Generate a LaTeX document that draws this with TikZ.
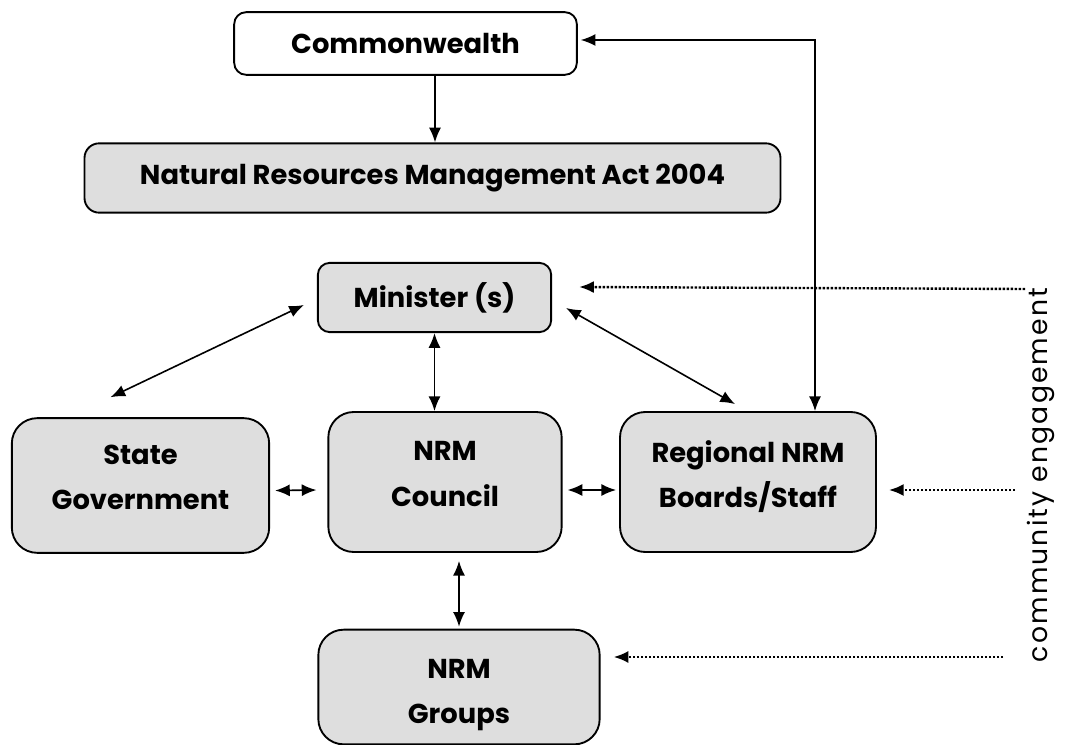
\documentclass[tikz,border=0pt]{standalone}
\usepackage{fontspec}
\setmainfont{Poppins}
\usetikzlibrary{arrows.meta,calc}
\definecolor{boxgrey}{RGB}{222,222,222}

\begin{document}
\begin{tikzpicture}[x=0.75pt,y=-0.75pt,
  panel/.style={draw, line width=1.4pt, rounded corners=9pt, align=center, inner sep=0pt,
    font=\fontsize{20.5}{34}\selectfont\bfseries},
  greypanel/.style={panel, fill=boxgrey},
  bigpanel/.style={greypanel, rounded corners=19pt},
  twoway/.style={{Latex[length=11pt,width=9pt]}-{Latex[length=11pt,width=9pt]}, line width=1.2pt},
  oneway/.style={-{Latex[length=11pt,width=9pt]}, line width=1.2pt},
  engage/.style={-{Latex[length=11pt,width=9pt]}, line width=1.8pt, dash pattern=on 1.8pt off 1.2pt}]

\useasboundingbox (0,0) rectangle (1067,745);

% top
\node [panel, fill=white, minimum width=257pt, minimum height=47pt] (commonwealth) at (405.5,43.5) {Commonwealth};
\node [greypanel, rounded corners=11pt, minimum width=522pt, minimum height=52pt] (act) at (432.5,178) {Natural Resources Management Act 2004};
\draw [oneway] (commonwealth.south -| 435,0) -- (act.north -| 435,0);

% middle
\node [greypanel, minimum width=175pt, minimum height=52pt] (minister) at (434.5,297.5) {Minister (s)};
\node [bigpanel, text depth=12pt, minimum width=193pt, minimum height=101pt] (state) at (140.5,485.5) {State\\Government};
\node [bigpanel, text depth=12pt, minimum width=175pt, minimum height=105pt] (council) at (445,482) {NRM\\Council};
\node [bigpanel, text depth=12pt, minimum width=192pt, minimum height=105pt] (regional) at (748,482) {Regional NRM\\Boards/Staff};

% bottom
\node [bigpanel, text height=60pt, minimum width=211pt, minimum height=86pt] (groups) at (459,687) {NRM\\Groups};

\draw [twoway] ([shift={(3,-3.5)}]commonwealth.east) -| ([shift={(67,0)}]regional.north);
\draw [twoway] ([shift={(-13,7.5)}]minister.west) -- ([shift={(-30,-20)}]state.north);
\draw [twoway] (minister.south) -- (minister.south |- council.north);
\draw [twoway] ([shift={(14,10.5)}]minister.east) -- ([shift={(-13,-7)}]regional.north);
\draw [twoway] ([shift={(5,5)}]state.east) -- ([shift={(-11,8)}]council.west);
\draw [twoway] ([shift={(5,8)}]council.east) -- ([shift={(-3,8)}]regional.west);
\draw [twoway] ([shift={(0,8)}]groups.north |- council.south) -- ([shift={(0,-2)}]groups.north);

% community side
\node [rotate=90, font=\fontsize{20}{24}\selectfont\addfontfeatures{LetterSpace=8}] (community) at (1041,475) {community engagement};
\coordinate (ce1) at (1025,289);
\coordinate (ce2) at (1015,490);
\coordinate (ce3) at (1003,657);
\draw [engage] (ce1) -- ([shift={(27,-10.5)}]minister.east);
\draw [engage] (ce2) -- ([shift={(12,8)}]regional.east);
\draw [engage] (ce3) -- ([shift={(13,-30)}]groups.east);

\end{tikzpicture}
\end{document}
